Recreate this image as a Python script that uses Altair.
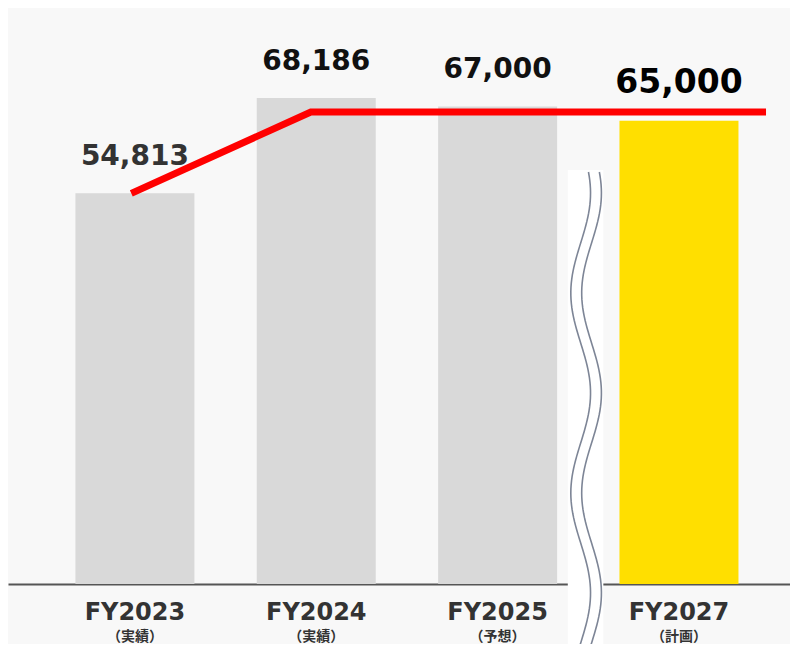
import altair as alt
import pandas as pd
import numpy as np

# ---- data ----
categories = ["FY2023", "FY2024", "FY2025", "FY2027"]
sublabels = ["（実績）", "（実績）", "（予想）", "（計画）"]
values = [54813, 68186, 67000, 65000]
value_labels = ["54,813", "68,186", "67,000", "65,000"]
bar_colors = ["#d9d9d9", "#d9d9d9", "#d9d9d9", "#ffdf00"]
label_sizes = [28, 28, 28, 33]
label_colors = ["#333333", "#111111", "#111111", "#000000"]

# red trend line (x in category-index units)
trend_x = [-0.02, 0.97, 3.48]
trend_y = [54813, 66220, 66220]

# ---- tables ----
df = pd.DataFrame({
    "pos": list(range(len(categories))),
    "cat": categories,
    "sub": sublabels,
    "value": values,
    "vlabel": value_labels,
    "color": bar_colors,
    "lsize": label_sizes,
    "lcolor": label_colors,
})
trend = pd.DataFrame({"x": trend_x, "y": trend_y})

W, H = 782, 576
PER_PX = 140.3
xs = alt.Scale(domain=[-0.6723, 3.5847], nice=False, zero=False)
ys = alt.Scale(domain=[0, H * PER_PX], nice=False, zero=False)

# decorative axis-break (white strip with two wavy lines)
brk = pd.DataFrame({"x": [2.387], "x2": [2.583], "y": [58080], "y2": [-15000]})
ypix = np.linspace(172, 662, 120)
rows = []
for k, cx in enumerate([2.458, 2.518]):
    for i, yp in enumerate(ypix):
        rows.append({
            "line": k,
            "seq": i,
            "x": cx + 0.0544 * np.cos(2 * np.pi * (yp - 393) / 200.0),
            "y": (584 - yp) * PER_PX,
        })
wave = pd.DataFrame(rows)

base = alt.Chart(df)

bars = base.mark_bar(size=119).encode(
    x=alt.X("pos:Q", scale=xs,
            axis=alt.Axis(domain=True, domainColor="#555555", domainWidth=2,
                          labels=False, ticks=False, grid=False, title=None)),
    y=alt.Y("value:Q", scale=ys, axis=None),
    color=alt.Color("color:N", scale=None),
)

trend_line = alt.Chart(trend).mark_line(color="#ff0000", strokeWidth=7, strokeCap="butt").encode(
    x=alt.X("x:Q", scale=xs),
    y=alt.Y("y:Q", scale=ys),
)

vlabels = base.mark_text(font="DejaVu Sans", fontWeight="bold", baseline="alphabetic", dy=-28).encode(
    x=alt.X("pos:Q", scale=xs),
    y=alt.Y("value:Q", scale=ys),
    text="vlabel:N",
    size=alt.Size("lsize:Q", scale=None),
    color=alt.Color("lcolor:N", scale=None),
)

cat_labels = base.mark_text(font="DejaVu Sans", fontWeight="bold", fontSize=24,
                            baseline="alphabetic", color="#333333").encode(
    x=alt.X("pos:Q", scale=xs),
    y=alt.value(612),
    text="cat:N",
)

sub_labels = base.mark_text(font="Noto Sans CJK JP", fontWeight="bold", fontSize=14,
                            baseline="alphabetic", color="#333333").encode(
    x=alt.X("pos:Q", scale=xs),
    y=alt.value(633),
    text="sub:N",
)

brk_rect = alt.Chart(brk).mark_rect(color="#ffffff").encode(
    x=alt.X("x:Q", scale=xs), x2="x2:Q",
    y=alt.Y("y:Q", scale=ys), y2="y2:Q",
)

wave_lines = alt.Chart(wave).mark_line(color="#7d8596", strokeWidth=1.6).encode(
    x=alt.X("x:Q", scale=xs),
    y=alt.Y("y:Q", scale=ys),
    detail="line:N",
    order="seq:Q",
)

chart = alt.layer(bars, trend_line, vlabels, cat_labels, sub_labels, brk_rect, wave_lines).properties(
    width=W, height=H,
    background="#f8f8f8",
    padding={"left": 0, "top": 0, "right": 0, "bottom": 60},
    autosize=alt.AutoSizeParams(type="none"),
).configure_view(stroke=None)

chart.save("out.html", embed_options={"renderer": "svg", "actions": False})
